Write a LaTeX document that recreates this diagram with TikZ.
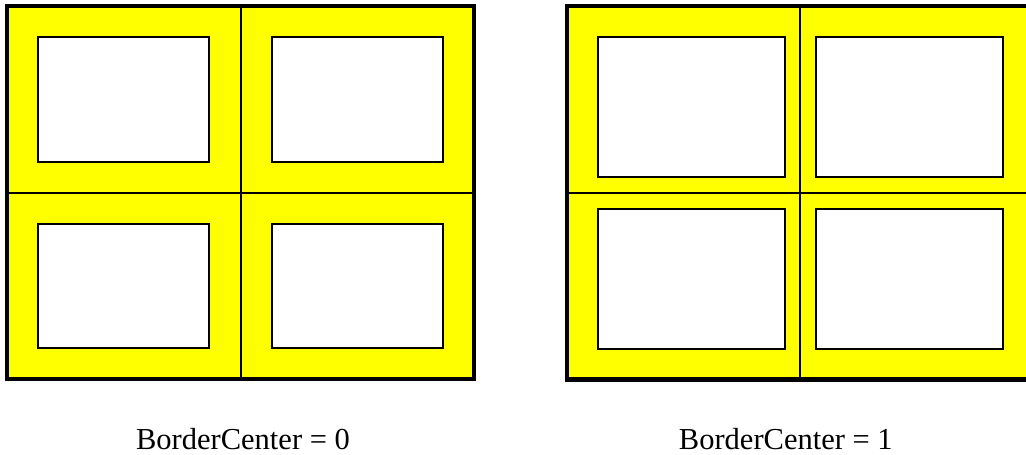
\documentclass[tikz,border=0pt]{standalone}
\usepackage{fontspec}
\setmainfont{Liberation Serif}
\definecolor{paneyellow}{RGB}{255,255,0}
\begin{document}
\begin{tikzpicture}[x=1pt,y=-1pt,
  panel/.style={fill=paneyellow,draw=none},
  divider/.style={draw=black,line width=1.9pt},
  pane/.style={fill=white,draw=black,line width=2pt},
  frame/.style={draw=black,line width=4.3pt,line join=miter},
  caption/.style={anchor=base,font=\fontsize{30.5}{36}\selectfont,inner sep=0pt}]
\useasboundingbox (0,0) rectangle (1026,455);
\clip (0,0) rectangle (1026,455);
% Left panel: BorderCenter = 0
\fill[panel] (7,6) rectangle (473.8,379);
\draw[pane] (38.3,37.3) rectangle (209.2,161.8);
\draw[pane] (271.8,37.3) rectangle (442.6,161.8);
\draw[pane] (38.3,224.3) rectangle (209.2,348.2);
\draw[pane] (271.8,224.3) rectangle (442.6,348.2);
\draw[divider] (240.6,6) -- (240.6,379);
\draw[divider] (7,193) -- (473.8,193);
\draw[frame] (7,6) rectangle (473.8,379);
% Right panel: BorderCenter = 1
\fill[panel] (567.2,6) rectangle (1034,379.5);
\draw[pane] (598,37.3) rectangle (785,176.7);
\draw[pane] (816,37.3) rectangle (1002.7,176.7);
\draw[pane] (598,209) rectangle (785,348.5);
\draw[pane] (816,209) rectangle (1002.7,348.5);
\draw[divider] (800.3,6) -- (800.3,379.5);
\draw[divider] (567.2,193) -- (1034,193);
\draw[frame] (567.2,6) rectangle (1034,379.5);
% Captions
\node[caption] (capL) at (243,449) {BorderCenter = 0};
\node[caption] (capR) at (785.8,449) {BorderCenter = 1};
\end{tikzpicture}
\end{document}
